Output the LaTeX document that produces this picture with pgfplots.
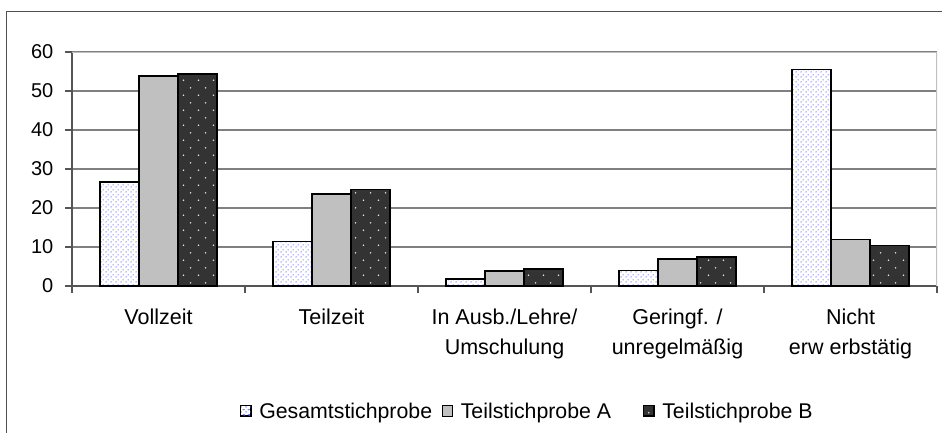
\documentclass[border=0pt]{standalone}
\usepackage{fontspec}
\setmainfont{Liberation Sans}
\usepackage{pgfplots}
\pgfplotsset{compat=1.18}
\usetikzlibrary{patterns,patterns.meta}

\definecolor{gridgray}{RGB}{128,128,128}
\definecolor{bordergray}{RGB}{192,192,192}
\definecolor{axisgray}{RGB}{85,85,85}
\definecolor{barA}{RGB}{192,192,192}
\definecolor{barB}{RGB}{51,51,51}
\definecolor{dotblue}{RGB}{120,120,255}
\definecolor{dotlight}{RGB}{225,225,225}
\definecolor{framegray}{RGB}{80,80,80}

\tikzdeclarepattern{
  name=gdots, type=colored,
  bounding box={(0pt,0pt) and (5pt,5pt)},
  tile size={(5pt,5pt)},
  code={\fill[dotblue] (1.25pt,1.25pt) circle (0.85pt);
        \fill[dotblue] (3.75pt,3.75pt) circle (0.85pt);}
}
\tikzdeclarepattern{
  name=bdots, type=colored,
  bounding box={(0pt,0pt) and (15pt,15.4pt)},
  tile size={(15pt,15.4pt)},
  code={\fill[dotlight] (3.75pt,3.85pt) circle (0.9pt);
        \fill[dotlight] (11.25pt,11.55pt) circle (0.9pt);}
}

\pgfplotsset{
  sqlegend/.style={legend image code/.code={%
    \draw[##1, line width=0.8pt] (0pt,-5.35pt) rectangle (10.7pt,5.35pt);}}
}

\begin{document}
\begin{tikzpicture}[x=1pt,y=1pt]
\useasboundingbox (0,0) rectangle (942,432);
\clip (0,0) rectangle (942,432);
\begin{axis}[
  at={(72pt,146pt)}, anchor=south west,
  scale only axis, width=865pt, height=234pt,
  xmin=-0.5, xmax=4.5, ymin=0, ymax=60,
  axis lines=left, axis line style={-, draw=axisgray, line width=1.2pt},
  ybar=0pt, bar width=39pt,
  tick align=outside, major tick length=6.5pt,
  tick style={draw=axisgray, line width=1.2pt},
  ytick={0,10,...,60},
  /pgf/number format/assume math mode=true,
  yticklabel style={font=\fontsize{20}{24}\selectfont, inner sep=0pt, xshift=-12pt},
  xtick={-0.5,0.5,1.5,2.5,3.5,4.5},
  xticklabels={},
  extra x ticks={0,1,2,3,4},
  extra x tick labels={{Vollzeit\\\mbox{}}, {Teilzeit\\\mbox{}}, {In Ausb./Lehre/\\Umschulung}, {Geringf. /\\unregelmäßig}, {Nicht\\erw erbstätig}},
  extra x tick style={major tick length=0pt,
     xticklabel style={font=\fontsize{21.5}{30}\selectfont, align=center, anchor=base, yshift=-68.3pt}},
  ymajorgrids, major grid style={draw=gridgray, line width=1.2pt},
  legend columns=-1,
  legend cell align=left,
  legend style={at={(axis description cs:0.1942,-0.5329)}, anchor=west,
     draw=none, fill=none, inner sep=0pt,
     font=\fontsize{21.3}{25}\selectfont,
     nodes={inner sep=0pt, text depth=0pt},
     /tikz/every odd column/.append style={column sep=7.6pt}},
]
\addplot[draw=black, line width=1.6pt, preaction={fill=white}, pattern=gdots, sqlegend]
  coordinates {(0,26.7) (1,11.4) (2,1.8) (3,4.0) (4,55.5)};
\addlegendentry{\makebox[182.4pt][l]{Gesamtstichprobe}}
\addplot[draw=black, line width=1.6pt, fill=barA, sqlegend]
  coordinates {(0,53.8) (1,23.6) (2,3.9) (3,7.0) (4,11.9)};
\addlegendentry{\makebox[182.4pt][l]{Teilstichprobe A}}
\addplot[draw=black, line width=1.6pt, preaction={fill=barB}, pattern=bdots, sqlegend]
  coordinates {(0,54.4) (1,24.7) (2,4.4) (3,7.5) (4,10.4)};
\addlegendentry{Teilstichprobe B}
\draw[bordergray, line width=1.2pt] (rel axis cs:0,1) -- (rel axis cs:1,1) -- (rel axis cs:1,0);
\end{axis}
\draw[framegray, line width=1.6pt] (6.5,-5) -- (6.5,420.5) -- (950,420.5);
\end{tikzpicture}
\end{document}
